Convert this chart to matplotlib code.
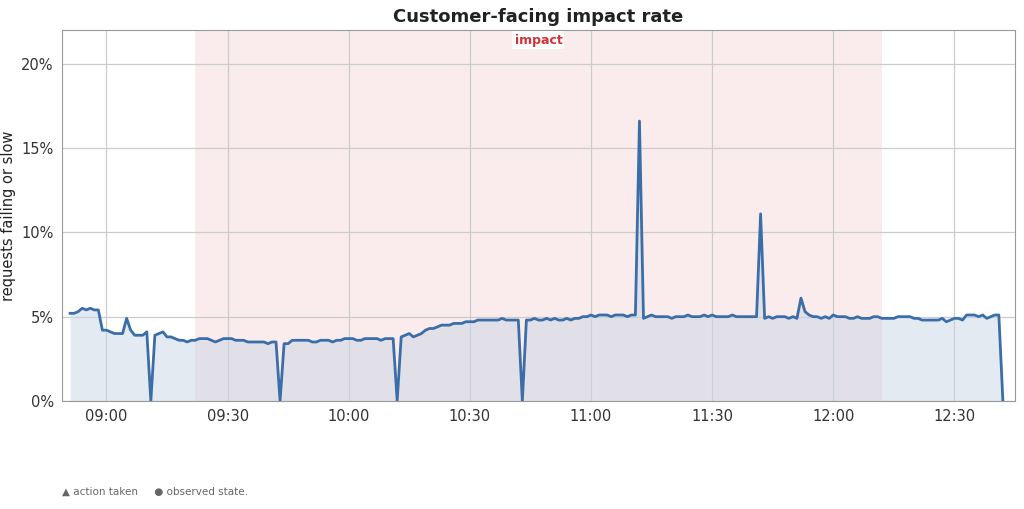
import matplotlib
matplotlib.use("Agg")
import matplotlib.pyplot as plt
import matplotlib.dates as mdates
import pandas as pd

start_time = "2024-01-01 08:51"
impact_start = "2024-01-01 09:22"
impact_end = "2024-01-01 12:12"
values = [
    5.2,5.2,5.3,5.5,5.4,5.5,5.4,5.4,4.2,
    4.2,4.1,4.0,4.0,4.0,4.9,4.2,3.9,3.9,3.9,
    4.1,0,3.9,4.0,4.1,3.8,3.8,3.7,3.6,3.6,
    3.5,3.6,3.6,3.7,3.7,3.7,3.6,3.5,3.6,3.7,
    3.7,3.7,3.6,3.6,3.6,3.5,3.5,3.5,3.5,3.5,
    3.4,3.5,3.5,0,3.4,3.4,3.6,3.6,3.6,3.6,
    3.6,3.5,3.5,3.6,3.6,3.6,3.5,3.6,3.6,3.7,
    3.7,3.7,3.6,3.6,3.7,3.7,3.7,3.7,3.6,3.7,
    3.7,3.7,0,3.8,3.9,4.0,3.8,3.9,4.0,4.2,
    4.3,4.3,4.4,4.5,4.5,4.5,4.6,4.6,4.6,4.7,
    4.7,4.7,4.8,4.8,4.8,4.8,4.8,4.8,4.9,4.8,
    4.8,4.8,4.8,0,4.8,4.8,4.9,4.8,4.8,4.9,
    4.8,4.9,4.8,4.8,4.9,4.8,4.9,4.9,5.0,5.0,
    5.1,5.0,5.1,5.1,5.1,5.0,5.1,5.1,5.1,5.0,
    5.1,5.1,16.6,4.9,5.0,5.1,5.0,5.0,5.0,5.0,
    4.9,5.0,5.0,5.0,5.1,5.0,5.0,5.0,5.1,5.0,
    5.1,5.0,5.0,5.0,5.0,5.1,5.0,5.0,5.0,5.0,
    5.0,5.0,11.1,4.9,5.0,4.9,5.0,5.0,5.0,4.9,
    5.0,4.9,6.1,5.3,5.1,5.0,5.0,4.9,5.0,4.9,
    5.1,5.0,5.0,5.0,4.9,4.9,5.0,4.9,4.9,4.9,
    5.0,5.0,4.9,4.9,4.9,4.9,5.0,5.0,5.0,5.0,
    4.9,4.9,4.8,4.8,4.8,4.8,4.8,4.9,4.7,4.8,
    4.9,4.9,4.8,5.1,5.1,5.1,5.0,5.1,4.9,5.0,
    5.1,5.1,0,
]
times = pd.date_range(start_time, periods=len(values), freq="1min")

fig = plt.figure(figsize=(10.24, 5.09), dpi=100)
ax = fig.add_axes([62/1024, 1-401/509, (1015-62)/1024, 371/509])
line_c = "#3b6ea8"
ax.axvspan(pd.Timestamp(impact_start), pd.Timestamp(impact_end), color="#f8e4e4", alpha=0.7, lw=0, zorder=0)
ax.fill_between(times, values, 0, color="#c9d6e6", alpha=0.5, lw=0, zorder=1)
ax.plot(times, values, color=line_c, lw=2, zorder=3)
mid = pd.Timestamp(impact_start) + (pd.Timestamp(impact_end) - pd.Timestamp(impact_start)) / 2
ax.text(mid, 21.4, "impact", color="#d0343a", fontsize=9, fontweight="bold", ha="center", va="center",
        bbox=dict(facecolor="white", edgecolor="none", pad=1.5, alpha=0.9), zorder=4)

ax.set_xlim(pd.Timestamp("2024-01-01 08:49"), pd.Timestamp("2024-01-01 12:45"))
ax.set_ylim(0, 22)
ax.set_yticks([0, 5, 10, 15, 20])
ax.set_yticklabels(["0%", "5%", "10%", "15%", "20%"])
ax.xaxis.set_major_locator(mdates.MinuteLocator(byminute=[0, 30]))
ax.xaxis.set_major_formatter(mdates.DateFormatter("%H:%M"))
ax.grid(True, color="#cccccc", lw=0.9, zorder=0)
ax.set_axisbelow(True)
for s in ax.spines.values():
    s.set_color("#999999")
ax.tick_params(colors="#333333", labelsize=10.5, length=0, pad=6)
ax.set_ylabel("requests failing or slow", fontsize=10.5, color="#222222")
ax.set_title("Customer-facing impact rate", fontsize=13, fontweight="bold", color="#222222", pad=6)
fig.text(62/1024, 1-492/509, "\u25b2 action taken     \u25cf observed state.", fontsize=7.5, color="#666666", va="center")
fig.savefig("out.png", dpi=100, facecolor="white")
